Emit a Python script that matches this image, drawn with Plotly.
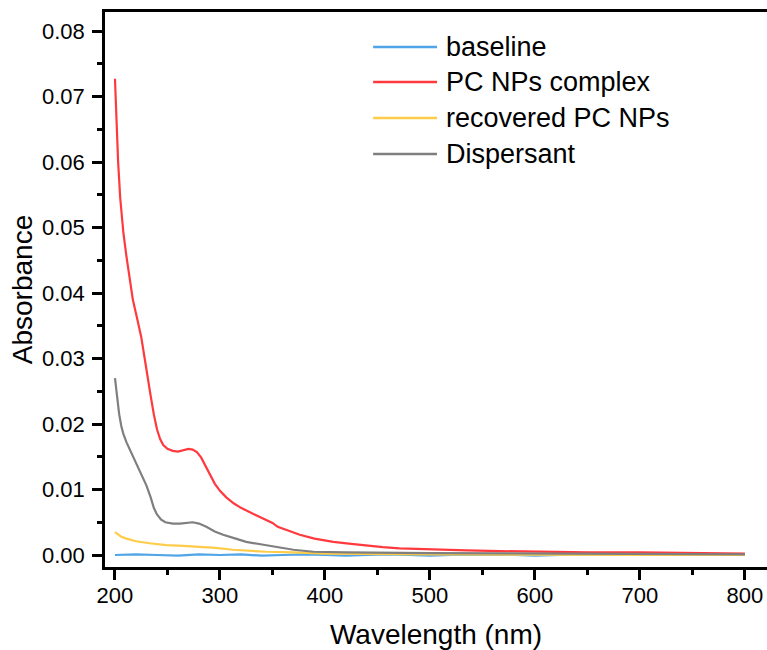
import plotly.graph_objects as go

# ---- data ----
wl_red = [200, 201.5, 203, 205, 208, 211, 214, 217, 221, 225, 228, 231, 234, 237, 240, 243, 246, 250,
          255, 260, 265, 270, 274, 278, 282, 286, 290, 295, 300, 306, 313, 320, 330, 340, 346, 350, 355,
          365, 376, 390, 408, 425, 440, 455, 471, 503, 535, 567, 600, 650, 700, 750, 800]
abs_red = [0.0727, 0.0650, 0.0600, 0.0545, 0.0492, 0.0455, 0.0420, 0.0390, 0.0362, 0.0333, 0.0303,
           0.0270, 0.0243, 0.0215, 0.0192, 0.0177, 0.0168, 0.0162, 0.0159, 0.0158, 0.0160, 0.0162,
           0.0161, 0.0157, 0.0149, 0.0137, 0.0124, 0.0109, 0.0098, 0.0088, 0.0079, 0.0072, 0.0064,
           0.0057, 0.0053, 0.0049, 0.0043, 0.0037, 0.0031, 0.0025, 0.0020, 0.0017, 0.0014, 0.0012,
           0.0010, 0.0008, 0.0007, 0.0006, 0.0005, 0.0004, 0.0004, 0.0003, 0.0002]

wl_gray = [200, 202, 204, 206, 208, 211, 215, 220, 225, 230, 234, 237, 240, 244, 248, 255, 262, 268,
           274, 280, 287, 295, 303, 315, 325, 340, 351, 370, 389, 420, 500, 600, 700, 800]
abs_gray = [0.0270, 0.0240, 0.0215, 0.0197, 0.0185, 0.0172, 0.0158, 0.0142, 0.0123, 0.0106, 0.0088,
            0.0072, 0.0062, 0.0054, 0.0050, 0.0048, 0.0048, 0.0049, 0.0050, 0.0048, 0.0043, 0.0036,
            0.0031, 0.0025, 0.0020, 0.0016, 0.0013, 0.0008, 0.0005, 0.0004, 0.0003, 0.0002, 0.0002,
            0.0001]

wl_yellow = [200, 203, 206, 211, 220, 233, 249, 265, 281, 296, 312, 330, 344, 370, 400, 500, 600, 700, 800]
abs_yellow = [0.0035, 0.0031, 0.0028, 0.0025, 0.0021, 0.0018, 0.0015, 0.0014, 0.0013, 0.0011, 0.0008,
              0.0006, 0.0005, 0.0004, 0.0002, 0.0001, 0.0000, 0.0000, 0.0000]

wl_base = [200, 220, 240, 260, 280, 300, 320, 340, 360, 380, 400, 420, 440, 460, 480, 500, 520, 540,
           560, 580, 600, 620, 640, 660, 680, 700, 720, 740, 760, 780, 800]
abs_base = [0.0000, 0.0001, 0.0000, -0.0001, 0.0001, 0.0000, 0.0001, -0.0001, 0.0000, 0.0001, 0.0000,
            -0.0001, 0.0000, 0.0001, 0.0000, -0.0001, 0.0000, 0.0000, 0.0001, 0.0000, -0.0001, 0.0000,
            0.0001, 0.0000, 0.0000, -0.0001, 0.0000, 0.0001, 0.0000, 0.0000, 0.0000]

series_names = ["baseline", "PC NPs complex", "recovered PC NPs", "Dispersant"]
series_x = [wl_base, wl_red, wl_yellow, wl_gray]
series_y = [abs_base, abs_red, abs_yellow, abs_gray]
series_colors = ["#4fa5e8", "#ff3a3f", "#ffcc4a", "#7f7f7f"]

x_ticks = [200, 300, 400, 500, 600, 700, 800]
y_ticks = [0.00, 0.01, 0.02, 0.03, 0.04, 0.05, 0.06, 0.07, 0.08]

FONT = "Liberation Sans, Arial, sans-serif"

fig = go.Figure()
for name, x, y, c in zip(series_names, series_x, series_y, series_colors):
    fig.add_trace(go.Scatter(x=x, y=y, name=name, mode="lines",
                             line=dict(color=c, width=2.2), showlegend=False))

# legend drawn as line samples + text (Origin-style long samples)
leg_rows = [0.937, 0.874, 0.809, 0.744]
for name, c, yy in zip(series_names, series_colors, leg_rows):
    fig.add_shape(type="line", xref="paper", yref="paper", x0=0.405, x1=0.5015, y0=yy, y1=yy,
                  line=dict(color=c, width=2.5))
    fig.add_annotation(xref="paper", yref="paper", x=0.512, y=yy, text=name, showarrow=False,
                       xanchor="left", yanchor="middle",
                       font=dict(family=FONT, size=27, color="black"))

fig.update_layout(
    width=767, height=650,
    margin=dict(l=105, r=0, t=12, b=83),
    paper_bgcolor="white", plot_bgcolor="white",
    font=dict(family=FONT, color="black", size=22),
    showlegend=False,
)
fig.update_xaxes(
    range=[190.5, 821], showline=True, linecolor="black", linewidth=2.5, mirror=True,
    showgrid=False, zeroline=False,
    tickmode="array", tickvals=x_ticks, ticktext=[str(v) for v in x_ticks],
    ticks="outside", ticklen=10, tickwidth=2.5, tickcolor="black",
    tickfont=dict(size=22, family=FONT), ticklabelstandoff=-3,
    minor=dict(dtick=50, tick0=0, ticks="outside", ticklen=5, tickwidth=2.5, tickcolor="black", showgrid=False),
    title=dict(text="Wavelength (nm)", font=dict(size=28, family=FONT), standoff=19),
)
fig.update_yaxes(
    range=[-0.00183, 0.0829], showline=True, linecolor="black", linewidth=2.5, mirror=False,
    showgrid=False, zeroline=False,
    tickmode="array", tickvals=y_ticks, ticktext=["%.2f" % v for v in y_ticks],
    ticks="outside", ticklen=10, tickwidth=2.5, tickcolor="black",
    tickfont=dict(size=22, family=FONT), ticklabelstandoff=3,
    minor=dict(dtick=0.005, tick0=0, ticks="outside", ticklen=5, tickwidth=2.5, tickcolor="black", showgrid=False),
    title=dict(text="Absorbance", font=dict(size=28, family=FONT), standoff=2),
)

fig.write_html("out.html", config={"displayModeBar": False},
               post_script="document.body.style.margin='0';document.body.style.overflow='hidden';")
